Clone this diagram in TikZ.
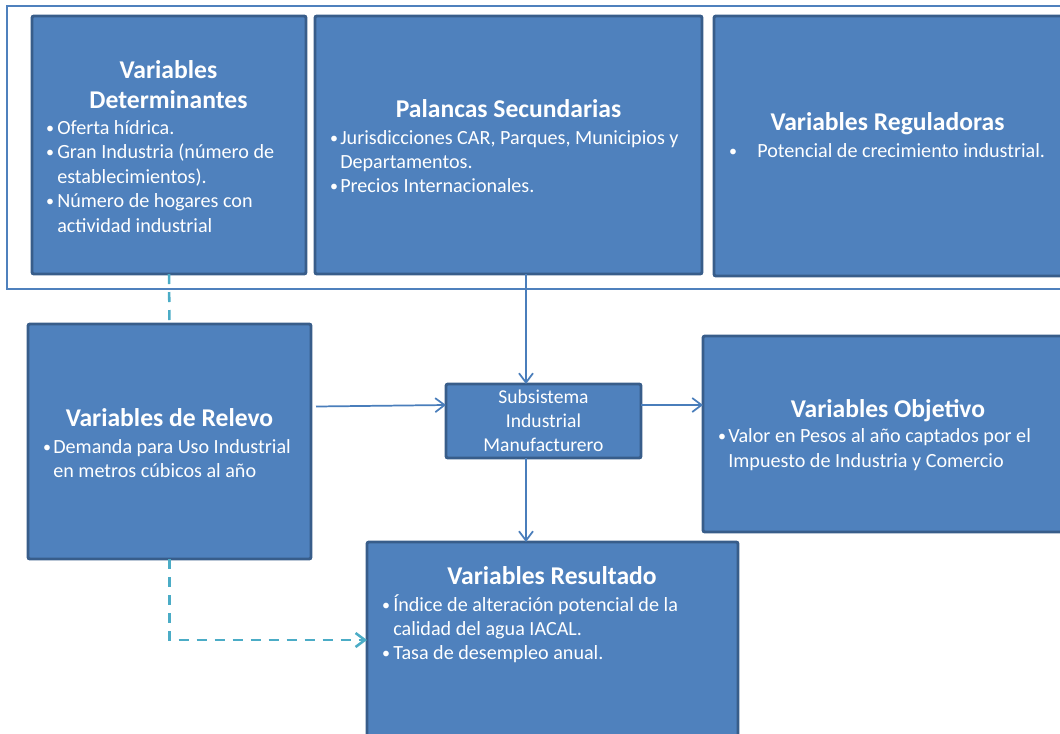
\documentclass[tikz,border=0pt]{standalone}
\usepackage{fontspec}
\setmainfont{Carlito}
\usetikzlibrary{arrows.meta,calc}

\definecolor{boxfill}{HTML}{4F81BD}
\definecolor{boxline}{HTML}{385D8A}
\definecolor{framecol}{HTML}{4F81BD}
\definecolor{linkblue}{HTML}{4A7EBB}
\definecolor{linkteal}{HTML}{4BACC6}

\tikzset{
  box/.style={draw=boxline, fill=boxfill, line width=2.2pt, rounded corners=1.5pt,
              inner sep=0pt, outer sep=0pt, anchor=north west, rectangle},
  framebox/.style={draw=framecol, line width=2.2pt, inner sep=0pt, outer sep=0pt,
              anchor=north west, rectangle},
  ttl/.style={text=white, font=\fontsize{19.2}{23}\selectfont\bfseries, inner sep=0pt, anchor=base},
  txt/.style={text=white, font=\fontsize{15.1}{18}\selectfont, inner sep=0pt, anchor=base west},
  ctxt/.style={text=white, font=\fontsize{14.7}{18}\selectfont, inner sep=0pt, anchor=base},
  dot/.style={text=white, font=\fontsize{12}{14}\selectfont, inner sep=0pt, anchor=base},
  link/.style={draw=linkblue, line width=1.3pt, -{Straight Barb[length=7pt,width=10.5pt]}},
  relay/.style={draw=linkteal, line width=1.9pt, dash pattern=on 7.5pt off 6pt},
  relayarrow/.style={relay, -{Straight Barb[length=7pt,width=10.5pt]}}
}

\begin{document}
\begin{tikzpicture}[x=0.75pt, y=-0.75pt]
\useasboundingbox (0,0) rectangle (1060,733);
\clip (0,0) rectangle (1060,733);

% frame around the upper row
\node[framebox, minimum width=801pt, minimum height=212.25pt] (frame) at (7,6) {};

% boxes
\node[box, minimum width=205.5pt, minimum height=193.5pt] (det) at (32,16) {};
\node[box, minimum width=290.25pt, minimum height=193.5pt] (pal) at (315,16) {};
\node[box, minimum width=270pt, minimum height=195pt] (reg) at (714,16) {};
\node[box, minimum width=212.25pt, minimum height=176.25pt] (rel) at (28,324) {};
\node[box, minimum width=146.25pt, minimum height=55.5pt] (sub) at (446,384) {};
\node[box, minimum width=277.5pt, minimum height=147pt] (obj) at (703,336) {};
\node[box, minimum width=278.25pt, minimum height=147pt] (res) at (367,542) {};

% connectors
\draw[relay] (det.south) -- (rel.north);
\draw[relayarrow] (rel.south) |- (res.west);
\draw[link] ($(rel.east)+(5,-35)$) -- ($(sub.west)+(0,-16)$);
\draw[link] ($(sub.east)+(0,-16)$) -- ($(obj.west |- sub.east)+(0,-16)$);
\draw[link] ($(pal.south)+(17.5,0)$) -- ($(sub.north -| pal.south)+(17.5,0)$);
\draw[link] ($(sub.south)+(-17.5,0)$) -- ($(res.north -| sub.south)+(-17.5,0)$);

% Variables Determinantes
\node[ttl] (detT1) at (168.5,78) {Variables};
\node[ttl] (detT2) at (168.5,108) {Determinantes};
\node[dot] (detB1) at (50,133) {•};
\node[txt] (detL1) at (57,134) {Oferta hídrica.};
\node[dot] (detB2) at (50,157.5) {•};
\node[txt] (detL2) at (57,158.5) {Gran Industria (número de};
\node[txt] (detL3) at (57,183) {establecimientos).};
\node[dot] (detB3) at (50,206.5) {•};
\node[txt] (detL4) at (57,207.5) {Número de hogares con};
\node[txt] (detL5) at (57,232) {actividad industrial};

% Palancas Secundarias
\node[ttl] (palT) at (508.5,117) {Palancas Secundarias};
\node[dot] (palB1) at (334,143) {•};
\node[txt] (palL1) at (340,144) {Jurisdicciones CAR, Parques, Municipios y};
\node[txt] (palL2) at (340,168) {Departamentos.};
\node[dot] (palB2) at (334,191) {•};
\node[txt] (palL3) at (340,192) {Precios Internacionales.};

% Variables Reguladoras
\node[ttl] (regT) at (887.5,130) {Variables Reguladoras};
\node[dot] (regB1) at (733,156) {•};
\node[txt] (regL1) at (757,157) {Potencial de crecimiento industrial.};

% Variables de Relevo
\node[ttl] (relT) at (169.5,426) {Variables de Relevo};
\node[dot] (relB1) at (47,452) {•};
\node[txt] (relL1) at (53,453) {Demanda para Uso Industrial};
\node[txt] (relL2) at (53,477) {en metros cúbicos al año};

% Subsistema
\node[ctxt] (subL1) at (543.5,403) {Subsistema};
\node[ctxt] (subL2) at (543.5,427.5) {Industrial};
\node[ctxt] (subL3) at (543.5,451) {Manufacturero};

% Variables Objetivo
\node[ttl] (objT) at (888,417) {Variables Objetivo};
\node[dot] (objB1) at (722,441) {•};
\node[txt] (objL1) at (728,442) {Valor en Pesos al año captados por el};
\node[txt] (objL2) at (728,467) {Impuesto de Industria y Comercio};

% Variables Resultado
\node[ttl] (resT) at (552,584) {Variables Resultado};
\node[dot] (resB1) at (386,610) {•};
\node[txt] (resL1) at (393,611) {Índice de alteración potencial de la};
\node[txt] (resL2) at (393,635) {calidad del agua IACAL.};
\node[dot] (resB2) at (386,658) {•};
\node[txt] (resL3) at (393,659) {Tasa de desempleo anual.};
\end{tikzpicture}
\end{document}
